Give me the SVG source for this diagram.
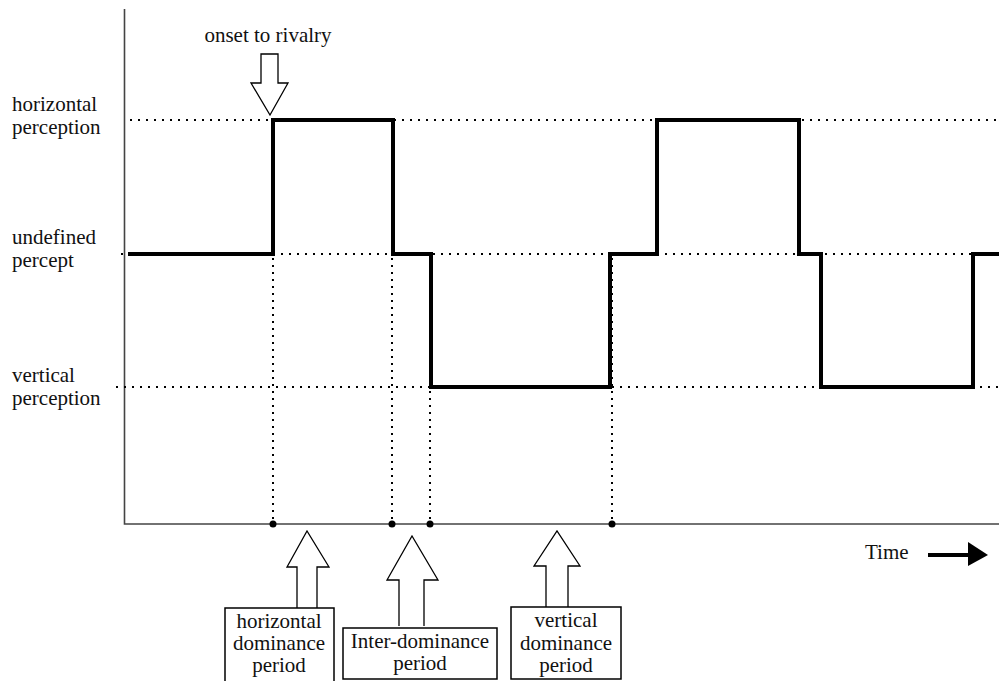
<svg xmlns="http://www.w3.org/2000/svg" width="999" height="681" viewBox="0 0 999 681">
<style>
text{font-family:"Liberation Serif","Times New Roman",serif;font-size:21px;fill:#111}
.mid{text-anchor:middle}
.dot{stroke:#000;stroke-width:2;stroke-dasharray:2 6;fill:none}
.vdot{stroke:#000;stroke-width:2;stroke-dasharray:2 5;fill:none}
.axis{stroke:#444;stroke-width:1.6;fill:none}
.wave{stroke:#000;stroke-width:4;fill:none;stroke-linejoin:miter}
.hollow{fill:#fff;stroke:#000;stroke-width:1.3}
.box{fill:#fff;stroke:#000;stroke-width:1.5}
</style>
<g id="axes">
<path class="axis" d="M124.5 9 V524 H999"/>
</g>
<g id="levels">
<line class="dot" x1="130" y1="120" x2="999" y2="120"/>
<line class="dot" x1="121" y1="254" x2="999" y2="254"/>
<line class="dot" x1="116" y1="387" x2="999" y2="387"/>
</g>
<g id="labels">
<text x="12" y="111">horizontal</text>
<text x="12" y="134">perception</text>
<text x="12" y="244">undefined</text>
<text x="12" y="267">percept</text>
<text x="12" y="382">vertical</text>
<text x="12" y="405">perception</text>
</g>
<g id="wave">
<path class="wave" d="M128 254 H273 V120 H393 V254 H431 V387 H610 V254 H657 V120 H799 V254 H821 V387 H973 V254 H999"/>
</g>
<g id="connectors">
<line class="vdot" x1="273" y1="258" x2="273" y2="522"/>
<line class="vdot" x1="392" y1="258" x2="392" y2="522"/>
<line class="vdot" x1="430" y1="391" x2="430" y2="522"/>
<line class="vdot" x1="612" y1="258" x2="612" y2="522"/>
<circle cx="273" cy="524" r="3.5"/>
<circle cx="392" cy="524" r="3.5"/>
<circle cx="430" cy="524" r="3.5"/>
<circle cx="612" cy="524" r="3.5"/>
</g>
<g id="onset">
<text class="mid" x="268" y="42">onset to rivalry</text>
<path class="hollow" d="M261 54 H278 V83 H288 L270 115 L251 83 H261 Z"/>
</g>
<g id="horizontal-dominance">
<path class="hollow" d="M297 608 V567 H287 L307 531 L329 567 H317 V608"/>
<rect class="box" x="225" y="608" width="109" height="80"/>
<text class="mid" x="279" y="628">horizontal</text>
<text class="mid" x="279" y="650">dominance</text>
<text class="mid" x="279" y="672">period</text>
</g>
<g id="inter-dominance">
<path class="hollow" d="M399 626 V580 H387 L412 536 L438 580 H424 V626"/>
<rect class="box" x="343" y="628" width="154" height="51"/>
<text class="mid" x="420" y="648">Inter-dominance</text>
<text class="mid" x="420" y="670">period</text>
</g>
<g id="vertical-dominance">
<path class="hollow" d="M546 607 V566 H534 L557 531 L580 566 H568 V607"/>
<rect class="box" x="511" y="607" width="110" height="72"/>
<text class="mid" x="566" y="627">vertical</text>
<text class="mid" x="566" y="650">dominance</text>
<text class="mid" x="566" y="672">period</text>
</g>
<g id="time">
<text x="865" y="559">Time</text>
<line x1="928" y1="555" x2="970" y2="555" stroke="#000" stroke-width="4"/>
<path d="M968 542 L988 555 L968 566 Z" fill="#000"/>
</g>
</svg>
